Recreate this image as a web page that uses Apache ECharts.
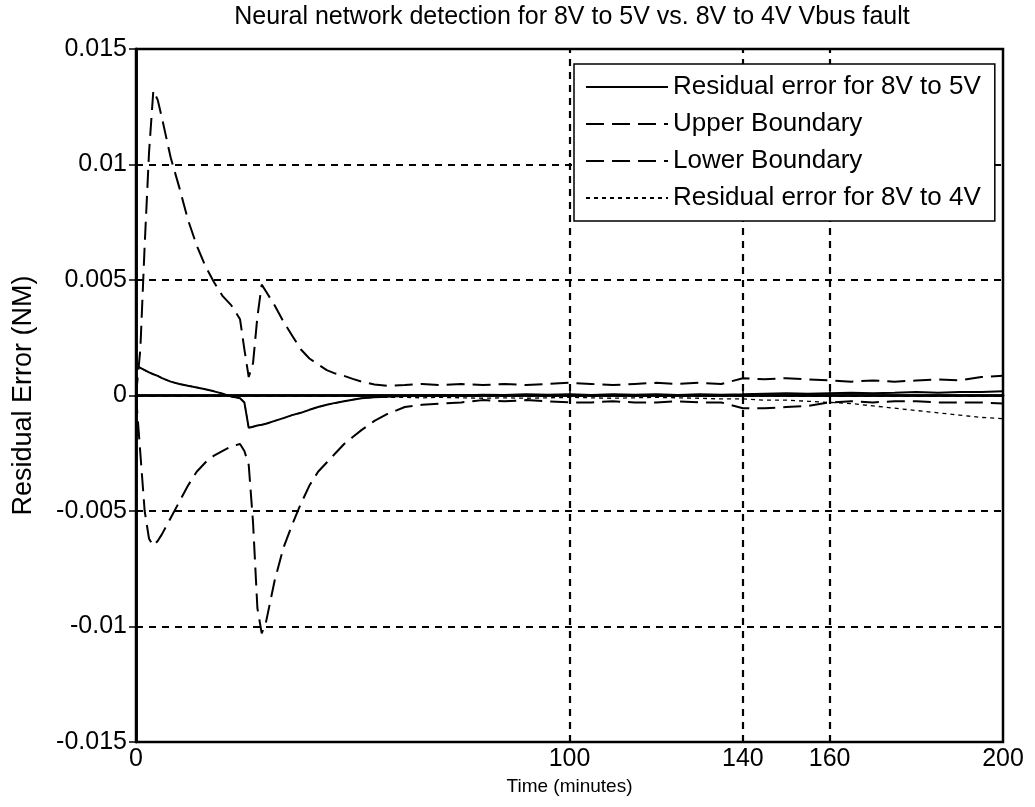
<!DOCTYPE html>
<html>
<head>
<meta charset="utf-8">
<script src="https://cdn.jsdelivr.net/npm/echarts@6/dist/echarts.min.js"></script>
<style>html,body{margin:0;padding:0;background:#fff}#c{width:1035px;height:807px}</style>
</head>
<body>
<div id="c"></div>
<script>
// time in minutes
const time = [0,1,2,3,4,5,6,8,10,12,14,16,18,20,22,23,24,25,26,27,28,29,30,32,34,36,38,40,42,44,46,48,50,52,55,58,62,66,70,75,80,85,90,95,100,105,110,115,120,125,130,135,140,145,150,155,160,165,170,175,180,185,190,195,200];
// values in units of 1e-3 NM
const residual5V = [1.3,1.2,1.1,1.0,0.92,0.85,0.75,0.6,0.5,0.42,0.35,0.27,0.18,0.08,-0.05,-0.08,-0.12,-0.3,-1.4,-1.35,-1.3,-1.27,-1.22,-1.1,-0.98,-0.85,-0.75,-0.62,-0.5,-0.4,-0.32,-0.25,-0.18,-0.12,-0.08,-0.05,-0.02,0,0.02,0,0.03,0.02,0.05,0.03,0.05,0.02,0.05,0.03,0.05,0.02,0.05,0.03,0.05,0.08,0.1,0.08,0.1,0.12,0.1,0.12,0.15,0.12,0.15,0.15,0.18];
const upperBoundary = [0,2.0,6.5,10.5,13.2,12.8,12.0,10.3,9.0,7.6,6.5,5.6,4.9,4.3,3.9,3.6,3.3,2.0,0.8,1.4,3.4,4.8,4.5,3.9,3.2,2.6,2.0,1.6,1.35,1.1,0.95,0.85,0.72,0.6,0.48,0.42,0.45,0.5,0.45,0.5,0.45,0.5,0.45,0.5,0.55,0.5,0.45,0.5,0.55,0.5,0.55,0.5,0.75,0.7,0.75,0.7,0.65,0.6,0.65,0.6,0.65,0.7,0.65,0.8,0.85];
const lowerBoundary = [0,-2.5,-5.0,-6.2,-6.5,-6.3,-6.0,-5.3,-4.6,-3.9,-3.3,-2.9,-2.6,-2.4,-2.2,-2.15,-2.1,-2.4,-3.0,-5.5,-9.2,-10.3,-9.8,-8.0,-6.6,-5.6,-4.7,-3.9,-3.3,-2.9,-2.5,-2.1,-1.8,-1.5,-1.1,-0.8,-0.5,-0.4,-0.35,-0.3,-0.2,-0.25,-0.2,-0.25,-0.3,-0.3,-0.25,-0.3,-0.3,-0.25,-0.3,-0.3,-0.55,-0.55,-0.5,-0.45,-0.3,-0.25,-0.3,-0.25,-0.25,-0.3,-0.3,-0.3,-0.35];
const residual4V = [1.3,1.2,1.1,1.0,0.92,0.85,0.75,0.6,0.5,0.42,0.35,0.27,0.18,0.08,-0.05,-0.08,-0.12,-0.3,-1.4,-1.35,-1.3,-1.27,-1.22,-1.1,-0.98,-0.85,-0.75,-0.62,-0.5,-0.4,-0.32,-0.25,-0.18,-0.12,-0.08,-0.08,-0.08,-0.1,-0.08,-0.1,-0.12,-0.1,-0.12,-0.1,-0.08,-0.1,-0.12,-0.1,-0.08,-0.1,-0.12,-0.15,-0.15,-0.2,-0.2,-0.25,-0.3,-0.35,-0.45,-0.55,-0.65,-0.75,-0.85,-0.95,-1.0];
const xTicks = [0,100,140,160,200];
const xGridLines = [100,140,160];
const seriesNames = ['Residual error for 8V to 5V','Upper Boundary','Lower Boundary','Residual error for 8V to 4V'];
const titleText = 'Neural network detection for 8V to 5V vs. 8V to 4V Vbus fault';

const pairs = arr => time.map((t, i) => [t, arr[i] * 1e-3]);
const FONT = '"Liberation Sans", Arial, sans-serif';
const fmtY = v => String(Number(v.toFixed(3)));

const chart = echarts.init(document.getElementById('c'), null, {renderer: 'canvas'});
const gridDash = {color: '#000', width: 2.2, type: [7, 6]};
chart.setOption({
  animation: false,
  backgroundColor: '#fff',
  title: {
    text: titleText, left: 567, top: 0, textAlign: 'center',
    textStyle: {fontFamily: FONT, fontSize: 25, fontWeight: 'normal', color: '#000'}
  },
  grid: {left: 136, right: 32, top: 49, bottom: 65, show: true, borderColor: '#000', borderWidth: 2.5, backgroundColor: 'transparent'},
  legend: {
    orient: 'vertical', left: 574, top: 64, z: 20,
    itemWidth: 82, itemHeight: 14, itemGap: 11,
    padding: [10, 14, 10, 11],
    backgroundColor: '#fff', borderColor: '#000', borderWidth: 1.5,
    itemStyle: {opacity: 0},
    textStyle: {fontFamily: FONT, fontSize: 26, color: '#000'},
    data: seriesNames
  },
  xAxis: [{
    type: 'value', min: 0, max: 200,
    name: 'Time (minutes)', nameLocation: 'middle', nameGap: 35,
    nameTextStyle: {fontFamily: FONT, fontSize: 19, color: '#000'},
    axisLine: {show: true, lineStyle: {color: '#000', width: 2.5}},
    axisTick: {show: true, inside: true, length: 7, customValues: xTicks, lineStyle: {color: '#000', width: 1.5}},
    axisLabel: {customValues: xTicks, fontFamily: FONT, fontSize: 25, color: '#000', margin: 5, formatter: v => String(v)},
    splitLine: {show: false}
  }, {
    type: 'value', min: 0, max: 200, position: 'top',
    axisLine: {show: true, lineStyle: {color: '#000', width: 2.5}},
    axisTick: {show: true, inside: true, length: 7, customValues: xTicks, lineStyle: {color: '#000', width: 1.5}},
    axisLabel: {show: false}, splitLine: {show: false}
  }],
  yAxis: [{
    type: 'value', min: -0.015, max: 0.015, interval: 0.005,
    name: 'Residual Error (NM)', nameLocation: 'middle', nameGap: 99,
    nameTextStyle: {fontFamily: FONT, fontSize: 27, color: '#000'},
    axisLine: {show: true, lineStyle: {color: '#000', width: 2.5}},
    axisTick: {show: true, inside: true, length: 7, lineStyle: {color: '#000', width: 1.5}},
    axisLabel: {fontFamily: FONT, fontSize: 25, color: '#000', margin: 9, formatter: fmtY},
    splitLine: {show: true, lineStyle: gridDash}
  }, {
    type: 'value', min: -0.015, max: 0.015, interval: 0.005, position: 'right',
    axisLine: {show: true, lineStyle: {color: '#000', width: 2.5}},
    axisTick: {show: true, inside: true, length: 7, lineStyle: {color: '#000', width: 1.5}},
    axisLabel: {show: false}, splitLine: {show: false}
  }],
  series: [
    {
      name: seriesNames[0], type: 'line', data: pairs(residual5V), showSymbol: false, symbol: 'none',
      lineStyle: {color: '#000', width: 2, type: 'solid'}, itemStyle: {color: '#000'}, z: 5,
      markLine: {
        silent: true, symbol: 'none', label: {show: false},
        lineStyle: gridDash,
        data: xGridLines.map(v => ({xAxis: v}))
      }
    },
    {
      name: seriesNames[1], type: 'line', data: pairs(upperBoundary), showSymbol: false, symbol: 'none',
      lineStyle: {color: '#000', width: 2, type: [18, 8]}, itemStyle: {color: '#000'}, z: 4
    },
    {
      name: seriesNames[2], type: 'line', data: pairs(lowerBoundary), showSymbol: false, symbol: 'none',
      lineStyle: {color: '#000', width: 2, type: [18, 8]}, itemStyle: {color: '#000'}, z: 4
    },
    {
      name: seriesNames[3], type: 'line', data: pairs(residual4V), showSymbol: false, symbol: 'none',
      lineStyle: {color: '#000', width: 1.3, type: [4, 4]}, itemStyle: {color: '#000'}, z: 6
    }
  ]
});
</script>
</body>
</html>
